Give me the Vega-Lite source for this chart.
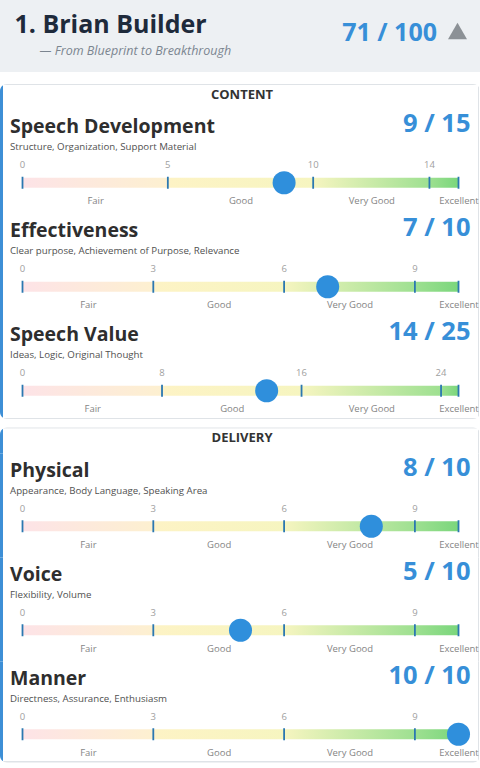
{
  "$schema": "https://vega.github.io/schema/vega-lite/v6.json",
  "padding": 0,
  "background": "#ffffff",
  "config": {
    "view": {"stroke": null},
    "font": "Open Sans",
    "axisY": {"disable": true},
    "scale": {"pointPadding": 0}
  },
  "datasets": {
    "speaker": [{"rank": 1, "name": "Brian Builder", "speech": "From Blueprint to Breakthrough", "total": 71, "max": 100}],
    "sections": [{"section": "CONTENT"}, {"section": "DELIVERY"}],
    "criteria": [
      {"id": "sd", "section": "CONTENT", "name": "Speech Development", "desc": "Structure, Organization, Support Material", "score": 9, "max": 15},
      {"id": "ef", "section": "CONTENT", "name": "Effectiveness", "desc": "Clear purpose, Achievement of Purpose, Relevance", "score": 7, "max": 10},
      {"id": "sv", "section": "CONTENT", "name": "Speech Value", "desc": "Ideas, Logic, Original Thought", "score": 14, "max": 25},
      {"id": "ph", "section": "DELIVERY", "name": "Physical", "desc": "Appearance, Body Language, Speaking Area", "score": 8, "max": 10},
      {"id": "vo", "section": "DELIVERY", "name": "Voice", "desc": "Flexibility, Volume", "score": 5, "max": 10},
      {"id": "ma", "section": "DELIVERY", "name": "Manner", "desc": "Directness, Assurance, Enthusiasm", "score": 10, "max": 10}
    ],
    "ticks": [
      {"id": "sd", "value": 0}, {"id": "sd", "value": 5}, {"id": "sd", "value": 10}, {"id": "sd", "value": 14},
      {"id": "ef", "value": 0}, {"id": "ef", "value": 3}, {"id": "ef", "value": 6}, {"id": "ef", "value": 9},
      {"id": "sv", "value": 0}, {"id": "sv", "value": 8}, {"id": "sv", "value": 16}, {"id": "sv", "value": 24},
      {"id": "ph", "value": 0}, {"id": "ph", "value": 3}, {"id": "ph", "value": 6}, {"id": "ph", "value": 9},
      {"id": "vo", "value": 0}, {"id": "vo", "value": 3}, {"id": "vo", "value": 6}, {"id": "vo", "value": 9},
      {"id": "ma", "value": 0}, {"id": "ma", "value": 3}, {"id": "ma", "value": 6}, {"id": "ma", "value": 9}
    ]
  },
  "spacing": 12,
  "vconcat": [
    {
      "width": 480, "height": 72,
      "data": {"name": "speaker"},
      "layer": [
        {"mark": {"type": "rect", "fill": "#edf0f3"}, "encoding": {}},
        {"mark": {"type": "text", "align": "left", "baseline": "middle", "fontSize": 25, "fontWeight": "bold", "color": "#1e2a3b", "text": {"expr": "datum.rank + '. ' + datum.name"}},
         "encoding": {"x": {"datum": 0, "type": "quantitative", "scale": {"nice": false, "zero": true, "range": [14.5, 437]}, "axis": null},
                      "y": {"datum": "name", "type": "ordinal", "scale": {"type": "point", "padding": 0, "domain": ["name", "subtitle"], "range": [25, 51]}}}},
        {"mark": {"type": "text", "align": "left", "baseline": "middle", "dx": 25, "fontSize": 12.5, "fontStyle": "italic", "color": "#7b8590", "text": {"expr": "'— ' + datum.speech"}},
         "encoding": {"x": {"datum": 0, "type": "quantitative", "axis": null}, "y": {"datum": "subtitle", "type": "ordinal"}}},
        {"mark": {"type": "text", "align": "right", "baseline": "middle", "dy": 8, "fontSize": 25, "fontWeight": "bold", "color": "#378fd8", "text": {"expr": "datum.total + ' / ' + datum.max"}},
         "encoding": {"x": {"field": "max", "type": "quantitative", "axis": null}, "y": {"datum": "name", "type": "ordinal"}}},
        {"mark": {"type": "point", "shape": "triangle-up", "filled": true, "size": 361, "color": "#8c9196", "opacity": 1, "xOffset": 20.5, "yOffset": 6},
         "encoding": {"x": {"field": "max", "type": "quantitative", "axis": null}, "y": {"datum": "name", "type": "ordinal"}}}
      ]
    },
    {
      "spacing": 8.5,
      "vconcat": [
        {
          "spacing": 0,
          "vconcat": [
            {
              "width": 480, "height": 26,
              "data": {"name": "sections"},
              "transform": [{"filter": "datum.section == 'CONTENT'"}],
              "layer": [
                {"mark": {"type": "rect", "cornerRadiusTopLeft": 7, "cornerRadiusTopRight": 7, "fill": {"gradient": "linear", "x1": 0, "x2": 1, "y1": 0, "y2": 0, "stops": [{"offset": 0, "color": "#3d8fd6"}, {"offset": 0.0062, "color": "#3d8fd6"}, {"offset": 0.0066, "color": "#ffffff"}, {"offset": 0.9952, "color": "#ffffff"}, {"offset": 0.9956, "color": "#dfe3e7"}, {"offset": 0.998, "color": "#dfe3e7"}, {"offset": 0.9984, "color": "#ffffff"}, {"offset": 1, "color": "#ffffff"}]}}, "encoding": {}},
                {"mark": {"type": "rect", "cornerRadiusTopLeft": 7, "cornerRadiusTopRight": 7, "fill": {"gradient": "linear", "x1": 0, "x2": 0, "y1": 0, "y2": 1, "stops": [{"offset": 0, "color": "#dfe3e7"}, {"offset": 0.035, "color": "#dfe3e7"}, {"offset": 0.045, "color": "rgba(255,255,255,0)"}, {"offset": 1, "color": "rgba(255,255,255,0)"}]}}, "encoding": {}},
                {"mark": {"type": "text", "baseline": "middle", "dx": 2, "dy": -2.5, "fontSize": 13, "fontWeight": "bold", "letterSpacing": 1.2, "color": "#333333"}, "encoding": {"text": {"field": "section", "type": "nominal"}}}
              ]
            },
            {
              "width": 480, "height": 104,
              "layer": [
                {"data": {"name": "criteria"}, "transform": [{"filter": "datum.id == 'sd'"}], "mark": {"type": "rect", "fill": {"gradient": "linear", "x1": 0, "x2": 1, "y1": 0, "y2": 0, "stops": [{"offset": 0, "color": "#3d8fd6"}, {"offset": 0.0062, "color": "#3d8fd6"}, {"offset": 0.0066, "color": "#ffffff"}, {"offset": 0.9952, "color": "#ffffff"}, {"offset": 0.9956, "color": "#dfe3e7"}, {"offset": 0.998, "color": "#dfe3e7"}, {"offset": 0.9984, "color": "#ffffff"}, {"offset": 1, "color": "#ffffff"}]}}, "encoding": {}},
                {"data": {"name": "criteria"}, "transform": [{"filter": "datum.id == 'sd'"}],
                 "mark": {"type": "bar", "orient": "horizontal", "size": 10, "fill": {"gradient": "linear", "x1": 0, "x2": 1, "y1": 0, "y2": 0, "stops": [{"offset": 0, "color": "#fde3e7"}, {"offset": 0.333, "color": "#fdf0d0"}, {"offset": 0.34, "color": "#fdf3c5"}, {"offset": 0.667, "color": "#f6f5c0"}, {"offset": 0.933, "color": "#9ee091"}, {"offset": 1, "color": "#7ad67c"}]}},
                 "encoding": {
                   "x": {"field": "max", "type": "quantitative", "scale": {"nice": false, "zero": true, "range": [22.5, 458.5]},
                         "axis": {"orient": "bottom", "values": [2.5, 7.5, 12, 15], "labelExpr": "datum.value < 5 ? 'Fair' : datum.value < 10 ? 'Good' : datum.value < 14 ? 'Very Good' : 'Excellent'", "title": null, "domain": false, "ticks": false, "grid": false, "labelPadding": 0, "offset": -13.5, "labelBaseline": "middle", "labelFontSize": 9.5, "labelColor": "#858585", "labelFont": "Open Sans", "labelFlush": false, "labelOverlap": false, "labelBound": false, "zindex": 1}},
                   "y": {"datum": "bar", "type": "ordinal", "scale": {"type": "point", "padding": 0, "domain": ["title", "sub", "num", "bar", "label"], "range": [19.5, 90.5]}}}},
                {"data": {"name": "ticks"}, "transform": [{"filter": "datum.id == 'sd'"}],
                 "mark": {"type": "tick", "orient": "vertical", "size": 12, "thickness": 1.8, "color": "#2b78b1", "opacity": 1},
                 "encoding": {"x": {"field": "value", "type": "quantitative"}, "y": {"datum": "bar", "type": "ordinal"}}},
                {"data": {"name": "criteria"}, "transform": [{"filter": "datum.id == 'sd'"}],
                 "mark": {"type": "tick", "orient": "vertical", "size": 12, "thickness": 1.8, "color": "#2b78b1", "opacity": 1},
                 "encoding": {"x": {"field": "max", "type": "quantitative"}, "y": {"datum": "bar", "type": "ordinal"}}},
                {"data": {"name": "ticks"}, "transform": [{"filter": "datum.id == 'sd'"}],
                 "mark": {"type": "text", "baseline": "middle", "fontSize": 9.5, "color": "#a0a0a0"},
                 "encoding": {"x": {"field": "value", "type": "quantitative"}, "y": {"datum": "num", "type": "ordinal"}, "text": {"field": "value", "type": "quantitative"}}},
                {"data": {"name": "criteria"}, "transform": [{"filter": "datum.id == 'sd'"}],
                 "mark": {"type": "text", "align": "left", "baseline": "middle", "dx": -12.5, "dy": -2.5, "fontSize": 19.5, "fontWeight": "bold", "color": "#2e2e2e"},
                 "encoding": {"x": {"datum": 0, "type": "quantitative"}, "y": {"datum": "title", "type": "ordinal"}, "text": {"field": "name", "type": "nominal"}}},
                {"data": {"name": "criteria"}, "transform": [{"filter": "datum.id == 'sd'"}],
                 "mark": {"type": "text", "align": "left", "baseline": "middle", "dx": -12.5, "fontSize": 9.7, "color": "#505050"},
                 "encoding": {"x": {"datum": 0, "type": "quantitative"}, "y": {"datum": "sub", "type": "ordinal"}, "text": {"field": "desc", "type": "nominal"}}},
                {"data": {"name": "criteria"}, "transform": [{"filter": "datum.id == 'sd'"}],
                 "mark": {"type": "text", "align": "right", "baseline": "middle", "dx": 12, "dy": -5.5, "fontSize": 25.5, "fontWeight": "bold", "color": "#378fd8", "text": {"expr": "datum.score + ' / ' + datum.max"}},
                 "encoding": {"x": {"field": "max", "type": "quantitative"}, "y": {"datum": "title", "type": "ordinal"}}},
                {"data": {"name": "criteria"}, "transform": [{"filter": "datum.id == 'sd'"}],
                 "mark": {"type": "circle", "size": 530, "color": "#2f8fdc", "opacity": 1},
                 "encoding": {"x": {"field": "score", "type": "quantitative"}, "y": {"datum": "bar", "type": "ordinal"}}}
              ]
            },
            {
              "width": 480, "height": 104,
              "layer": [
                {"data": {"name": "criteria"}, "transform": [{"filter": "datum.id == 'ef'"}], "mark": {"type": "rect", "fill": {"gradient": "linear", "x1": 0, "x2": 1, "y1": 0, "y2": 0, "stops": [{"offset": 0, "color": "#3d8fd6"}, {"offset": 0.0062, "color": "#3d8fd6"}, {"offset": 0.0066, "color": "#ffffff"}, {"offset": 0.9952, "color": "#ffffff"}, {"offset": 0.9956, "color": "#dfe3e7"}, {"offset": 0.998, "color": "#dfe3e7"}, {"offset": 0.9984, "color": "#ffffff"}, {"offset": 1, "color": "#ffffff"}]}}, "encoding": {}},
                {"data": {"name": "criteria"}, "transform": [{"filter": "datum.id == 'ef'"}],
                 "mark": {"type": "bar", "orient": "horizontal", "size": 10, "fill": {"gradient": "linear", "x1": 0, "x2": 1, "y1": 0, "y2": 0, "stops": [{"offset": 0, "color": "#fde3e7"}, {"offset": 0.3, "color": "#fdf0d0"}, {"offset": 0.307, "color": "#fdf3c5"}, {"offset": 0.6, "color": "#f6f5c0"}, {"offset": 0.9, "color": "#9ee091"}, {"offset": 1, "color": "#7ad67c"}]}},
                 "encoding": {
                   "x": {"field": "max", "type": "quantitative", "scale": {"nice": false, "zero": true, "range": [22.5, 458.5]},
                         "axis": {"orient": "bottom", "values": [1.5, 4.5, 7.5, 10], "labelExpr": "datum.value < 3 ? 'Fair' : datum.value < 6 ? 'Good' : datum.value < 9 ? 'Very Good' : 'Excellent'", "title": null, "domain": false, "ticks": false, "grid": false, "labelPadding": 0, "offset": -13.5, "labelBaseline": "middle", "labelFontSize": 9.5, "labelColor": "#858585", "labelFont": "Open Sans", "labelFlush": false, "labelOverlap": false, "labelBound": false, "zindex": 1}},
                   "y": {"datum": "bar", "type": "ordinal", "scale": {"type": "point", "padding": 0, "domain": ["title", "sub", "num", "bar", "label"], "range": [19.5, 90.5]}}}},
                {"data": {"name": "ticks"}, "transform": [{"filter": "datum.id == 'ef'"}],
                 "mark": {"type": "tick", "orient": "vertical", "size": 12, "thickness": 1.8, "color": "#2b78b1", "opacity": 1},
                 "encoding": {"x": {"field": "value", "type": "quantitative"}, "y": {"datum": "bar", "type": "ordinal"}}},
                {"data": {"name": "criteria"}, "transform": [{"filter": "datum.id == 'ef'"}],
                 "mark": {"type": "tick", "orient": "vertical", "size": 12, "thickness": 1.8, "color": "#2b78b1", "opacity": 1},
                 "encoding": {"x": {"field": "max", "type": "quantitative"}, "y": {"datum": "bar", "type": "ordinal"}}},
                {"data": {"name": "ticks"}, "transform": [{"filter": "datum.id == 'ef'"}],
                 "mark": {"type": "text", "baseline": "middle", "fontSize": 9.5, "color": "#a0a0a0"},
                 "encoding": {"x": {"field": "value", "type": "quantitative"}, "y": {"datum": "num", "type": "ordinal"}, "text": {"field": "value", "type": "quantitative"}}},
                {"data": {"name": "criteria"}, "transform": [{"filter": "datum.id == 'ef'"}],
                 "mark": {"type": "text", "align": "left", "baseline": "middle", "dx": -12.5, "dy": -2.5, "fontSize": 19.5, "fontWeight": "bold", "color": "#2e2e2e"},
                 "encoding": {"x": {"datum": 0, "type": "quantitative"}, "y": {"datum": "title", "type": "ordinal"}, "text": {"field": "name", "type": "nominal"}}},
                {"data": {"name": "criteria"}, "transform": [{"filter": "datum.id == 'ef'"}],
                 "mark": {"type": "text", "align": "left", "baseline": "middle", "dx": -12.5, "fontSize": 9.7, "color": "#505050"},
                 "encoding": {"x": {"datum": 0, "type": "quantitative"}, "y": {"datum": "sub", "type": "ordinal"}, "text": {"field": "desc", "type": "nominal"}}},
                {"data": {"name": "criteria"}, "transform": [{"filter": "datum.id == 'ef'"}],
                 "mark": {"type": "text", "align": "right", "baseline": "middle", "dx": 12, "dy": -5.5, "fontSize": 25.5, "fontWeight": "bold", "color": "#378fd8", "text": {"expr": "datum.score + ' / ' + datum.max"}},
                 "encoding": {"x": {"field": "max", "type": "quantitative"}, "y": {"datum": "title", "type": "ordinal"}}},
                {"data": {"name": "criteria"}, "transform": [{"filter": "datum.id == 'ef'"}],
                 "mark": {"type": "circle", "size": 530, "color": "#2f8fdc", "opacity": 1},
                 "encoding": {"x": {"field": "score", "type": "quantitative"}, "y": {"datum": "bar", "type": "ordinal"}}}
              ]
            },
            {
              "width": 480, "height": 101,
              "layer": [
                {"data": {"name": "criteria"}, "transform": [{"filter": "datum.id == 'sv'"}], "mark": {"type": "rect", "cornerRadiusBottomLeft": 7, "cornerRadiusBottomRight": 7, "fill": {"gradient": "linear", "x1": 0, "x2": 1, "y1": 0, "y2": 0, "stops": [{"offset": 0, "color": "#3d8fd6"}, {"offset": 0.0062, "color": "#3d8fd6"}, {"offset": 0.0066, "color": "#ffffff"}, {"offset": 0.9952, "color": "#ffffff"}, {"offset": 0.9956, "color": "#dfe3e7"}, {"offset": 0.998, "color": "#dfe3e7"}, {"offset": 0.9984, "color": "#ffffff"}, {"offset": 1, "color": "#ffffff"}]}}, "encoding": {}},
                {"data": {"name": "criteria"}, "transform": [{"filter": "datum.id == 'sv'"}], "mark": {"type": "rect", "cornerRadiusBottomLeft": 7, "cornerRadiusBottomRight": 7, "fill": {"gradient": "linear", "x1": 0, "x2": 0, "y1": 0, "y2": 1, "stops": [{"offset": 0, "color": "rgba(255,255,255,0)"}, {"offset": 0.986, "color": "rgba(255,255,255,0)"}, {"offset": 0.99, "color": "#dfe3e7"}, {"offset": 1, "color": "#dfe3e7"}]}}, "encoding": {}},
                {"data": {"name": "criteria"}, "transform": [{"filter": "datum.id == 'sv'"}],
                 "mark": {"type": "bar", "orient": "horizontal", "size": 10, "fill": {"gradient": "linear", "x1": 0, "x2": 1, "y1": 0, "y2": 0, "stops": [{"offset": 0, "color": "#fde3e7"}, {"offset": 0.32, "color": "#fdf0d0"}, {"offset": 0.327, "color": "#fdf3c5"}, {"offset": 0.64, "color": "#f6f5c0"}, {"offset": 0.96, "color": "#9ee091"}, {"offset": 1, "color": "#7ad67c"}]}},
                 "encoding": {
                   "x": {"field": "max", "type": "quantitative", "scale": {"nice": false, "zero": true, "range": [22.5, 458.5]},
                         "axis": {"orient": "bottom", "values": [4, 12, 20, 25], "labelExpr": "datum.value < 8 ? 'Fair' : datum.value < 16 ? 'Good' : datum.value < 24 ? 'Very Good' : 'Excellent'", "title": null, "domain": false, "ticks": false, "grid": false, "labelPadding": 0, "offset": -10.5, "labelBaseline": "middle", "labelFontSize": 9.5, "labelColor": "#858585", "labelFont": "Open Sans", "labelFlush": false, "labelOverlap": false, "labelBound": false, "zindex": 1}},
                   "y": {"datum": "bar", "type": "ordinal", "scale": {"type": "point", "padding": 0, "domain": ["title", "sub", "num", "bar", "label"], "range": [19.5, 90.5]}}}},
                {"data": {"name": "ticks"}, "transform": [{"filter": "datum.id == 'sv'"}],
                 "mark": {"type": "tick", "orient": "vertical", "size": 12, "thickness": 1.8, "color": "#2b78b1", "opacity": 1},
                 "encoding": {"x": {"field": "value", "type": "quantitative"}, "y": {"datum": "bar", "type": "ordinal"}}},
                {"data": {"name": "criteria"}, "transform": [{"filter": "datum.id == 'sv'"}],
                 "mark": {"type": "tick", "orient": "vertical", "size": 12, "thickness": 1.8, "color": "#2b78b1", "opacity": 1},
                 "encoding": {"x": {"field": "max", "type": "quantitative"}, "y": {"datum": "bar", "type": "ordinal"}}},
                {"data": {"name": "ticks"}, "transform": [{"filter": "datum.id == 'sv'"}],
                 "mark": {"type": "text", "baseline": "middle", "fontSize": 9.5, "color": "#a0a0a0"},
                 "encoding": {"x": {"field": "value", "type": "quantitative"}, "y": {"datum": "num", "type": "ordinal"}, "text": {"field": "value", "type": "quantitative"}}},
                {"data": {"name": "criteria"}, "transform": [{"filter": "datum.id == 'sv'"}],
                 "mark": {"type": "text", "align": "left", "baseline": "middle", "dx": -12.5, "dy": -2.5, "fontSize": 19.5, "fontWeight": "bold", "color": "#2e2e2e"},
                 "encoding": {"x": {"datum": 0, "type": "quantitative"}, "y": {"datum": "title", "type": "ordinal"}, "text": {"field": "name", "type": "nominal"}}},
                {"data": {"name": "criteria"}, "transform": [{"filter": "datum.id == 'sv'"}],
                 "mark": {"type": "text", "align": "left", "baseline": "middle", "dx": -12.5, "fontSize": 9.7, "color": "#505050"},
                 "encoding": {"x": {"datum": 0, "type": "quantitative"}, "y": {"datum": "sub", "type": "ordinal"}, "text": {"field": "desc", "type": "nominal"}}},
                {"data": {"name": "criteria"}, "transform": [{"filter": "datum.id == 'sv'"}],
                 "mark": {"type": "text", "align": "right", "baseline": "middle", "dx": 12, "dy": -5.5, "fontSize": 25.5, "fontWeight": "bold", "color": "#378fd8", "text": {"expr": "datum.score + ' / ' + datum.max"}},
                 "encoding": {"x": {"field": "max", "type": "quantitative"}, "y": {"datum": "title", "type": "ordinal"}}},
                {"data": {"name": "criteria"}, "transform": [{"filter": "datum.id == 'sv'"}],
                 "mark": {"type": "circle", "size": 530, "color": "#2f8fdc", "opacity": 1},
                 "encoding": {"x": {"field": "score", "type": "quantitative"}, "y": {"datum": "bar", "type": "ordinal"}}}
              ]
            }
          ]
        },
        {
          "spacing": 0,
          "vconcat": [
            {
              "width": 480, "height": 26,
              "data": {"name": "sections"},
              "transform": [{"filter": "datum.section == 'DELIVERY'"}],
              "layer": [
                {"mark": {"type": "rect", "cornerRadiusTopLeft": 7, "cornerRadiusTopRight": 7, "fill": {"gradient": "linear", "x1": 0, "x2": 1, "y1": 0, "y2": 0, "stops": [{"offset": 0, "color": "#3d8fd6"}, {"offset": 0.0062, "color": "#3d8fd6"}, {"offset": 0.0066, "color": "#ffffff"}, {"offset": 0.9952, "color": "#ffffff"}, {"offset": 0.9956, "color": "#dfe3e7"}, {"offset": 0.998, "color": "#dfe3e7"}, {"offset": 0.9984, "color": "#ffffff"}, {"offset": 1, "color": "#ffffff"}]}}, "encoding": {}},
                {"mark": {"type": "rect", "cornerRadiusTopLeft": 7, "cornerRadiusTopRight": 7, "fill": {"gradient": "linear", "x1": 0, "x2": 0, "y1": 0, "y2": 1, "stops": [{"offset": 0, "color": "#dfe3e7"}, {"offset": 0.035, "color": "#dfe3e7"}, {"offset": 0.045, "color": "rgba(255,255,255,0)"}, {"offset": 1, "color": "rgba(255,255,255,0)"}]}}, "encoding": {}},
                {"mark": {"type": "text", "baseline": "middle", "dx": 2, "dy": -2.5, "fontSize": 13, "fontWeight": "bold", "letterSpacing": 1.2, "color": "#333333"}, "encoding": {"text": {"field": "section", "type": "nominal"}}}
              ]
            },
            {
              "width": 480, "height": 104,
              "layer": [
                {"data": {"name": "criteria"}, "transform": [{"filter": "datum.id == 'ph'"}], "mark": {"type": "rect", "fill": {"gradient": "linear", "x1": 0, "x2": 1, "y1": 0, "y2": 0, "stops": [{"offset": 0, "color": "#3d8fd6"}, {"offset": 0.0062, "color": "#3d8fd6"}, {"offset": 0.0066, "color": "#ffffff"}, {"offset": 0.9952, "color": "#ffffff"}, {"offset": 0.9956, "color": "#dfe3e7"}, {"offset": 0.998, "color": "#dfe3e7"}, {"offset": 0.9984, "color": "#ffffff"}, {"offset": 1, "color": "#ffffff"}]}}, "encoding": {}},
                {"data": {"name": "criteria"}, "transform": [{"filter": "datum.id == 'ph'"}],
                 "mark": {"type": "bar", "orient": "horizontal", "size": 10, "fill": {"gradient": "linear", "x1": 0, "x2": 1, "y1": 0, "y2": 0, "stops": [{"offset": 0, "color": "#fde3e7"}, {"offset": 0.3, "color": "#fdf0d0"}, {"offset": 0.307, "color": "#fdf3c5"}, {"offset": 0.6, "color": "#f6f5c0"}, {"offset": 0.9, "color": "#9ee091"}, {"offset": 1, "color": "#7ad67c"}]}},
                 "encoding": {
                   "x": {"field": "max", "type": "quantitative", "scale": {"nice": false, "zero": true, "range": [22.5, 458.5]},
                         "axis": {"orient": "bottom", "values": [1.5, 4.5, 7.5, 10], "labelExpr": "datum.value < 3 ? 'Fair' : datum.value < 6 ? 'Good' : datum.value < 9 ? 'Very Good' : 'Excellent'", "title": null, "domain": false, "ticks": false, "grid": false, "labelPadding": 0, "offset": -13.5, "labelBaseline": "middle", "labelFontSize": 9.5, "labelColor": "#858585", "labelFont": "Open Sans", "labelFlush": false, "labelOverlap": false, "labelBound": false, "zindex": 1}},
                   "y": {"datum": "bar", "type": "ordinal", "scale": {"type": "point", "padding": 0, "domain": ["title", "sub", "num", "bar", "label"], "range": [19.5, 90.5]}}}},
                {"data": {"name": "ticks"}, "transform": [{"filter": "datum.id == 'ph'"}],
                 "mark": {"type": "tick", "orient": "vertical", "size": 12, "thickness": 1.8, "color": "#2b78b1", "opacity": 1},
                 "encoding": {"x": {"field": "value", "type": "quantitative"}, "y": {"datum": "bar", "type": "ordinal"}}},
                {"data": {"name": "criteria"}, "transform": [{"filter": "datum.id == 'ph'"}],
                 "mark": {"type": "tick", "orient": "vertical", "size": 12, "thickness": 1.8, "color": "#2b78b1", "opacity": 1},
                 "encoding": {"x": {"field": "max", "type": "quantitative"}, "y": {"datum": "bar", "type": "ordinal"}}},
                {"data": {"name": "ticks"}, "transform": [{"filter": "datum.id == 'ph'"}],
                 "mark": {"type": "text", "baseline": "middle", "fontSize": 9.5, "color": "#a0a0a0"},
                 "encoding": {"x": {"field": "value", "type": "quantitative"}, "y": {"datum": "num", "type": "ordinal"}, "text": {"field": "value", "type": "quantitative"}}},
                {"data": {"name": "criteria"}, "transform": [{"filter": "datum.id == 'ph'"}],
                 "mark": {"type": "text", "align": "left", "baseline": "middle", "dx": -12.5, "dy": -2.5, "fontSize": 19.5, "fontWeight": "bold", "color": "#2e2e2e"},
                 "encoding": {"x": {"datum": 0, "type": "quantitative"}, "y": {"datum": "title", "type": "ordinal"}, "text": {"field": "name", "type": "nominal"}}},
                {"data": {"name": "criteria"}, "transform": [{"filter": "datum.id == 'ph'"}],
                 "mark": {"type": "text", "align": "left", "baseline": "middle", "dx": -12.5, "fontSize": 9.7, "color": "#505050"},
                 "encoding": {"x": {"datum": 0, "type": "quantitative"}, "y": {"datum": "sub", "type": "ordinal"}, "text": {"field": "desc", "type": "nominal"}}},
                {"data": {"name": "criteria"}, "transform": [{"filter": "datum.id == 'ph'"}],
                 "mark": {"type": "text", "align": "right", "baseline": "middle", "dx": 12, "dy": -5.5, "fontSize": 25.5, "fontWeight": "bold", "color": "#378fd8", "text": {"expr": "datum.score + ' / ' + datum.max"}},
                 "encoding": {"x": {"field": "max", "type": "quantitative"}, "y": {"datum": "title", "type": "ordinal"}}},
                {"data": {"name": "criteria"}, "transform": [{"filter": "datum.id == 'ph'"}],
                 "mark": {"type": "circle", "size": 530, "color": "#2f8fdc", "opacity": 1},
                 "encoding": {"x": {"field": "score", "type": "quantitative"}, "y": {"datum": "bar", "type": "ordinal"}}}
              ]
            },
            {
              "width": 480, "height": 104,
              "layer": [
                {"data": {"name": "criteria"}, "transform": [{"filter": "datum.id == 'vo'"}], "mark": {"type": "rect", "fill": {"gradient": "linear", "x1": 0, "x2": 1, "y1": 0, "y2": 0, "stops": [{"offset": 0, "color": "#3d8fd6"}, {"offset": 0.0062, "color": "#3d8fd6"}, {"offset": 0.0066, "color": "#ffffff"}, {"offset": 0.9952, "color": "#ffffff"}, {"offset": 0.9956, "color": "#dfe3e7"}, {"offset": 0.998, "color": "#dfe3e7"}, {"offset": 0.9984, "color": "#ffffff"}, {"offset": 1, "color": "#ffffff"}]}}, "encoding": {}},
                {"data": {"name": "criteria"}, "transform": [{"filter": "datum.id == 'vo'"}],
                 "mark": {"type": "bar", "orient": "horizontal", "size": 10, "fill": {"gradient": "linear", "x1": 0, "x2": 1, "y1": 0, "y2": 0, "stops": [{"offset": 0, "color": "#fde3e7"}, {"offset": 0.3, "color": "#fdf0d0"}, {"offset": 0.307, "color": "#fdf3c5"}, {"offset": 0.6, "color": "#f6f5c0"}, {"offset": 0.9, "color": "#9ee091"}, {"offset": 1, "color": "#7ad67c"}]}},
                 "encoding": {
                   "x": {"field": "max", "type": "quantitative", "scale": {"nice": false, "zero": true, "range": [22.5, 458.5]},
                         "axis": {"orient": "bottom", "values": [1.5, 4.5, 7.5, 10], "labelExpr": "datum.value < 3 ? 'Fair' : datum.value < 6 ? 'Good' : datum.value < 9 ? 'Very Good' : 'Excellent'", "title": null, "domain": false, "ticks": false, "grid": false, "labelPadding": 0, "offset": -13.5, "labelBaseline": "middle", "labelFontSize": 9.5, "labelColor": "#858585", "labelFont": "Open Sans", "labelFlush": false, "labelOverlap": false, "labelBound": false, "zindex": 1}},
                   "y": {"datum": "bar", "type": "ordinal", "scale": {"type": "point", "padding": 0, "domain": ["title", "sub", "num", "bar", "label"], "range": [19.5, 90.5]}}}},
                {"data": {"name": "ticks"}, "transform": [{"filter": "datum.id == 'vo'"}],
                 "mark": {"type": "tick", "orient": "vertical", "size": 12, "thickness": 1.8, "color": "#2b78b1", "opacity": 1},
                 "encoding": {"x": {"field": "value", "type": "quantitative"}, "y": {"datum": "bar", "type": "ordinal"}}},
                {"data": {"name": "criteria"}, "transform": [{"filter": "datum.id == 'vo'"}],
                 "mark": {"type": "tick", "orient": "vertical", "size": 12, "thickness": 1.8, "color": "#2b78b1", "opacity": 1},
                 "encoding": {"x": {"field": "max", "type": "quantitative"}, "y": {"datum": "bar", "type": "ordinal"}}},
                {"data": {"name": "ticks"}, "transform": [{"filter": "datum.id == 'vo'"}],
                 "mark": {"type": "text", "baseline": "middle", "fontSize": 9.5, "color": "#a0a0a0"},
                 "encoding": {"x": {"field": "value", "type": "quantitative"}, "y": {"datum": "num", "type": "ordinal"}, "text": {"field": "value", "type": "quantitative"}}},
                {"data": {"name": "criteria"}, "transform": [{"filter": "datum.id == 'vo'"}],
                 "mark": {"type": "text", "align": "left", "baseline": "middle", "dx": -12.5, "dy": -2.5, "fontSize": 19.5, "fontWeight": "bold", "color": "#2e2e2e"},
                 "encoding": {"x": {"datum": 0, "type": "quantitative"}, "y": {"datum": "title", "type": "ordinal"}, "text": {"field": "name", "type": "nominal"}}},
                {"data": {"name": "criteria"}, "transform": [{"filter": "datum.id == 'vo'"}],
                 "mark": {"type": "text", "align": "left", "baseline": "middle", "dx": -12.5, "fontSize": 9.7, "color": "#505050"},
                 "encoding": {"x": {"datum": 0, "type": "quantitative"}, "y": {"datum": "sub", "type": "ordinal"}, "text": {"field": "desc", "type": "nominal"}}},
                {"data": {"name": "criteria"}, "transform": [{"filter": "datum.id == 'vo'"}],
                 "mark": {"type": "text", "align": "right", "baseline": "middle", "dx": 12, "dy": -5.5, "fontSize": 25.5, "fontWeight": "bold", "color": "#378fd8", "text": {"expr": "datum.score + ' / ' + datum.max"}},
                 "encoding": {"x": {"field": "max", "type": "quantitative"}, "y": {"datum": "title", "type": "ordinal"}}},
                {"data": {"name": "criteria"}, "transform": [{"filter": "datum.id == 'vo'"}],
                 "mark": {"type": "circle", "size": 530, "color": "#2f8fdc", "opacity": 1},
                 "encoding": {"x": {"field": "score", "type": "quantitative"}, "y": {"datum": "bar", "type": "ordinal"}}}
              ]
            },
            {
              "width": 480, "height": 101,
              "layer": [
                {"data": {"name": "criteria"}, "transform": [{"filter": "datum.id == 'ma'"}], "mark": {"type": "rect", "cornerRadiusBottomLeft": 7, "cornerRadiusBottomRight": 7, "fill": {"gradient": "linear", "x1": 0, "x2": 1, "y1": 0, "y2": 0, "stops": [{"offset": 0, "color": "#3d8fd6"}, {"offset": 0.0062, "color": "#3d8fd6"}, {"offset": 0.0066, "color": "#ffffff"}, {"offset": 0.9952, "color": "#ffffff"}, {"offset": 0.9956, "color": "#dfe3e7"}, {"offset": 0.998, "color": "#dfe3e7"}, {"offset": 0.9984, "color": "#ffffff"}, {"offset": 1, "color": "#ffffff"}]}}, "encoding": {}},
                {"data": {"name": "criteria"}, "transform": [{"filter": "datum.id == 'ma'"}], "mark": {"type": "rect", "cornerRadiusBottomLeft": 7, "cornerRadiusBottomRight": 7, "fill": {"gradient": "linear", "x1": 0, "x2": 0, "y1": 0, "y2": 1, "stops": [{"offset": 0, "color": "rgba(255,255,255,0)"}, {"offset": 0.986, "color": "rgba(255,255,255,0)"}, {"offset": 0.99, "color": "#dfe3e7"}, {"offset": 1, "color": "#dfe3e7"}]}}, "encoding": {}},
                {"data": {"name": "criteria"}, "transform": [{"filter": "datum.id == 'ma'"}],
                 "mark": {"type": "bar", "orient": "horizontal", "size": 10, "fill": {"gradient": "linear", "x1": 0, "x2": 1, "y1": 0, "y2": 0, "stops": [{"offset": 0, "color": "#fde3e7"}, {"offset": 0.3, "color": "#fdf0d0"}, {"offset": 0.307, "color": "#fdf3c5"}, {"offset": 0.6, "color": "#f6f5c0"}, {"offset": 0.9, "color": "#9ee091"}, {"offset": 1, "color": "#7ad67c"}]}},
                 "encoding": {
                   "x": {"field": "max", "type": "quantitative", "scale": {"nice": false, "zero": true, "range": [22.5, 458.5]},
                         "axis": {"orient": "bottom", "values": [1.5, 4.5, 7.5, 10], "labelExpr": "datum.value < 3 ? 'Fair' : datum.value < 6 ? 'Good' : datum.value < 9 ? 'Very Good' : 'Excellent'", "title": null, "domain": false, "ticks": false, "grid": false, "labelPadding": 0, "offset": -10.5, "labelBaseline": "middle", "labelFontSize": 9.5, "labelColor": "#858585", "labelFont": "Open Sans", "labelFlush": false, "labelOverlap": false, "labelBound": false, "zindex": 1}},
                   "y": {"datum": "bar", "type": "ordinal", "scale": {"type": "point", "padding": 0, "domain": ["title", "sub", "num", "bar", "label"], "range": [19.5, 90.5]}}}},
                {"data": {"name": "ticks"}, "transform": [{"filter": "datum.id == 'ma'"}],
                 "mark": {"type": "tick", "orient": "vertical", "size": 12, "thickness": 1.8, "color": "#2b78b1", "opacity": 1},
                 "encoding": {"x": {"field": "value", "type": "quantitative"}, "y": {"datum": "bar", "type": "ordinal"}}},
                {"data": {"name": "criteria"}, "transform": [{"filter": "datum.id == 'ma'"}],
                 "mark": {"type": "tick", "orient": "vertical", "size": 12, "thickness": 1.8, "color": "#2b78b1", "opacity": 1},
                 "encoding": {"x": {"field": "max", "type": "quantitative"}, "y": {"datum": "bar", "type": "ordinal"}}},
                {"data": {"name": "ticks"}, "transform": [{"filter": "datum.id == 'ma'"}],
                 "mark": {"type": "text", "baseline": "middle", "fontSize": 9.5, "color": "#a0a0a0"},
                 "encoding": {"x": {"field": "value", "type": "quantitative"}, "y": {"datum": "num", "type": "ordinal"}, "text": {"field": "value", "type": "quantitative"}}},
                {"data": {"name": "criteria"}, "transform": [{"filter": "datum.id == 'ma'"}],
                 "mark": {"type": "text", "align": "left", "baseline": "middle", "dx": -12.5, "dy": -2.5, "fontSize": 19.5, "fontWeight": "bold", "color": "#2e2e2e"},
                 "encoding": {"x": {"datum": 0, "type": "quantitative"}, "y": {"datum": "title", "type": "ordinal"}, "text": {"field": "name", "type": "nominal"}}},
                {"data": {"name": "criteria"}, "transform": [{"filter": "datum.id == 'ma'"}],
                 "mark": {"type": "text", "align": "left", "baseline": "middle", "dx": -12.5, "fontSize": 9.7, "color": "#505050"},
                 "encoding": {"x": {"datum": 0, "type": "quantitative"}, "y": {"datum": "sub", "type": "ordinal"}, "text": {"field": "desc", "type": "nominal"}}},
                {"data": {"name": "criteria"}, "transform": [{"filter": "datum.id == 'ma'"}],
                 "mark": {"type": "text", "align": "right", "baseline": "middle", "dx": 12, "dy": -5.5, "fontSize": 25.5, "fontWeight": "bold", "color": "#378fd8", "text": {"expr": "datum.score + ' / ' + datum.max"}},
                 "encoding": {"x": {"field": "max", "type": "quantitative"}, "y": {"datum": "title", "type": "ordinal"}}},
                {"data": {"name": "criteria"}, "transform": [{"filter": "datum.id == 'ma'"}],
                 "mark": {"type": "circle", "size": 530, "color": "#2f8fdc", "opacity": 1},
                 "encoding": {"x": {"field": "score", "type": "quantitative"}, "y": {"datum": "bar", "type": "ordinal"}}}
              ]
            }
          ]
        }
      ]
    }
  ]
}
